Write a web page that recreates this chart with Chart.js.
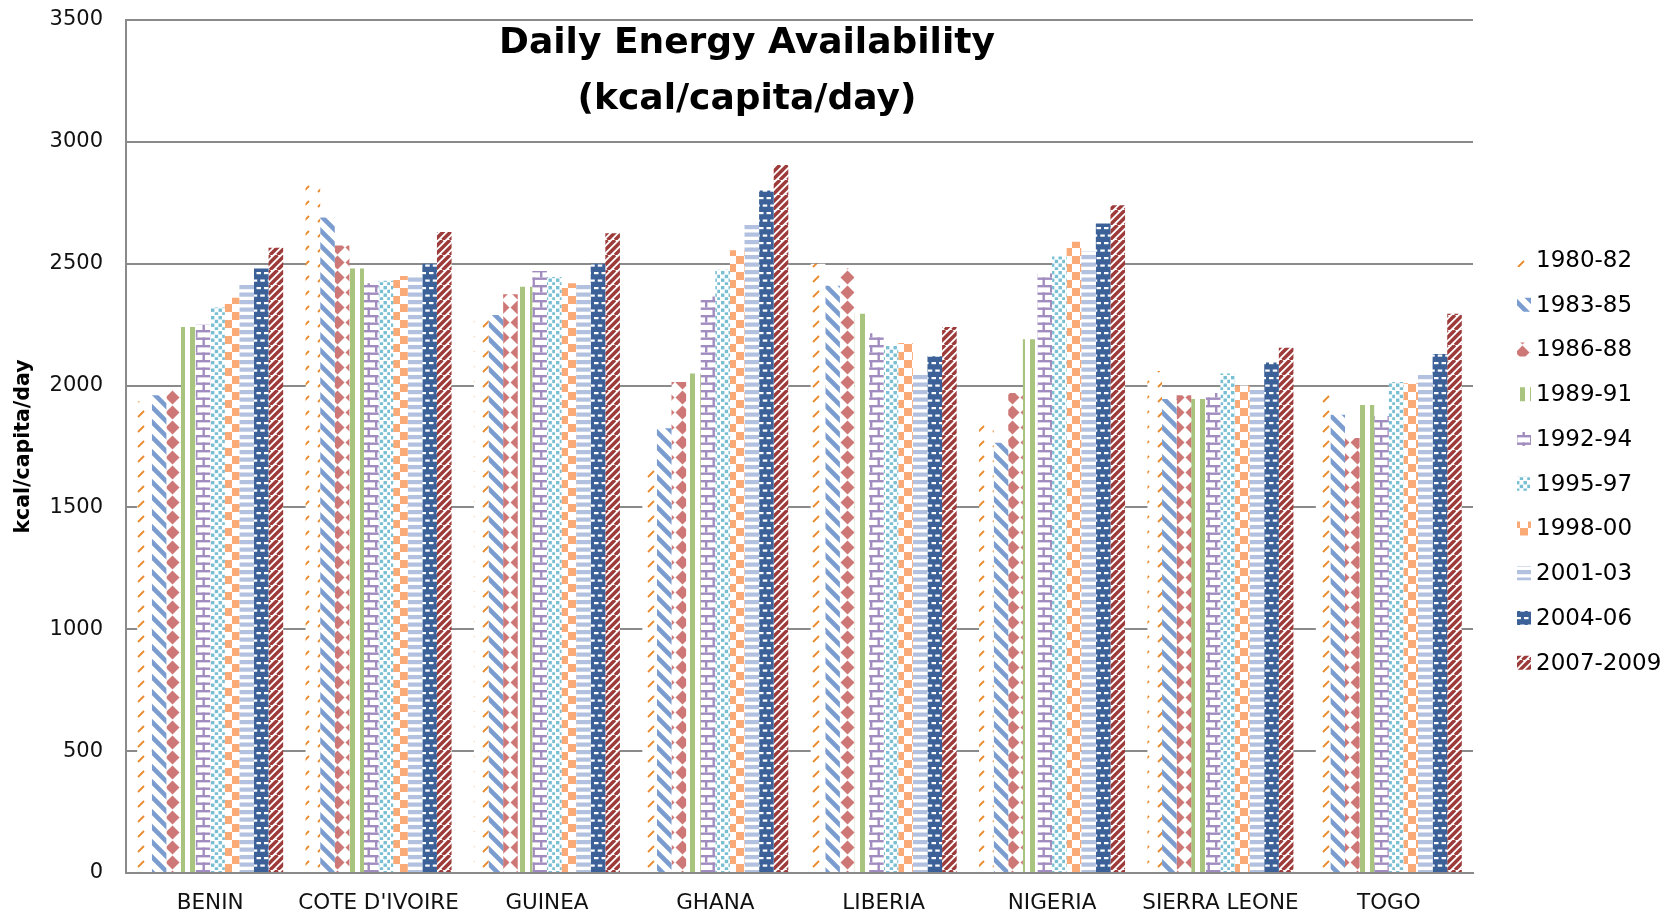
<!DOCTYPE html>
<html>
<head>
<meta charset="utf-8">
<title>Daily Energy Availability</title>
<script src="https://cdn.jsdelivr.net/npm/chart.js@4.4.1/dist/chart.umd.min.js"></script>
<style>
  html, body { margin: 0; padding: 0; background: #ffffff; }
  #wrap { width: 1675px; height: 914px; position: relative; }
</style>
</head>
<body>
<div id="wrap"><canvas id="chart" width="1675" height="914"></canvas></div>
<script>
// Countries on the category axis
const countries = ['BENIN', "COTE D'IVOIRE", 'GUINEA', 'GHANA', 'LIBERIA', 'NIGERIA', 'SIERRA LEONE', 'TOGO'];

// Three-year periods (one series each)
const periods = ['1980-82', '1983-85', '1986-88', '1989-91', '1992-94', '1995-97', '1998-00', '2001-03', '2004-06', '2007-2009'];

// kcal/capita/day, one value per country, in the order of `countries`
const v1980_82 = [1935, 2845, 2295, 1660, 2500, 1850, 2060, 1965];
const v1983_85 = [1960, 2690, 2290, 1825, 2410, 1765, 1945, 1880];
const v1986_88 = [1985, 2575, 2375, 2015, 2480, 1970, 1960, 1785];
const v1989_91 = [2240, 2480, 2405, 2050, 2295, 2190, 1945, 1920];
const v1992_94 = [2250, 2420, 2470, 2365, 2215, 2460, 1970, 1875];
const v1995_97 = [2320, 2430, 2445, 2475, 2165, 2530, 2050, 2015];
const v1998_00 = [2360, 2450, 2420, 2555, 2175, 2590, 2000, 2010];
const v2001_03 = [2415, 2455, 2420, 2660, 2055, 2550, 1995, 2045];
const v2004_06 = [2480, 2500, 2500, 2800, 2120, 2665, 2095, 2130];
const v2007_09 = [2565, 2630, 2625, 2905, 2240, 2740, 2155, 2295];

// Value axis ticks
const yTickValues = [0, 500, 1000, 1500, 2000, 2500, 3000, 3500];

const seriesValues = [v1980_82, v1983_85, v1986_88, v1989_91, v1992_94,
                      v1995_97, v1998_00, v2001_03, v2004_06, v2007_09];

// ---- pattern fills (white ground, coloured motif) ----
function tile(w, h, paint) {
  const c = document.createElement('canvas');
  c.width = w; c.height = h;
  const g = c.getContext('2d');
  g.fillStyle = '#ffffff';
  g.fillRect(0, 0, w, h);
  paint(g, w, h);
  return c;
}
const ctx0 = document.getElementById('chart').getContext('2d');
function pattern(c) { return ctx0.createPattern(c, 'repeat'); }

const fills = [
  // dashed upward diagonal, orange
  pattern(tile(15, 15, g => {
    g.strokeStyle = '#E98A2D'; g.lineWidth = 1.8;
    g.beginPath(); g.moveTo(3, 12); g.lineTo(9, 6); g.stroke();
  })),
  // wide downward diagonal, blue
  pattern(tile(15, 15, g => {
    g.strokeStyle = '#7B9CCF'; g.lineWidth = 4.6;
    g.beginPath();
    for (const k of [-15, 0, 15]) { g.moveTo(k - 2, -2); g.lineTo(k + 17, 17); }
    g.stroke();
  })),
  // solid diamond, rose
  pattern(tile(15, 15, g => {
    g.fillStyle = '#CD7876';
    g.beginPath();
    g.moveTo(7.5, 0.5); g.lineTo(14.5, 7.5); g.lineTo(7.5, 14.5); g.lineTo(0.5, 7.5);
    g.closePath(); g.fill();
  })),
  // vertical stripes, green
  pattern(tile(10, 10, g => {
    g.fillStyle = '#A9C47F'; g.fillRect(0, 0, 5, 10);
  })),
  // horizontal brick, purple
  pattern(tile(15, 15, g => {
    g.fillStyle = '#A18CBF';
    g.fillRect(0, 0, 15, 2.4);
    g.fillRect(0, 7.5, 15, 2.4);
    g.fillRect(0, 0, 2.4, 7.5);
    g.fillRect(7.5, 7.5, 2.4, 7.5);
  })),
  // small confetti squares, aqua
  pattern(tile(15, 15, g => {
    g.fillStyle = '#79BFD3';
    for (const i of [0, 7.5]) for (const j of [0, 7.5]) {
      g.fillRect(i + 1, j + 1, 3.4, 3.4);
      g.fillRect(i + 4.75, j + 4.75, 3.4, 3.4);
    }
  })),
  // large checker board, light orange
  pattern(tile(16, 16, g => {
    g.fillStyle = '#F9AA77';
    g.fillRect(0, 0, 8, 8);
    g.fillRect(8, 8, 8, 8);
  })),
  // horizontal stripes, light blue
  pattern(tile(15, 15, g => {
    g.fillStyle = '#B1C1DF';
    g.fillRect(0, 0, 15, 4.2);
    g.fillRect(0, 7.5, 15, 4.2);
  })),
  // dark blue with white dashes
  pattern(tile(15, 15, g => {
    g.fillStyle = '#3B6198'; g.fillRect(0, 0, 15, 15);
    g.fillStyle = '#ffffff';
    for (const x of [1.5, 9]) g.fillRect(x, 2, 4.5, 2.2);
    for (const x of [-2.25, 5.25, 12.75]) g.fillRect(x, 9.5, 4.5, 2.2);
  })),
  // wide upward diagonal, dark red
  pattern(tile(15, 15, g => {
    g.strokeStyle = '#9D3B3B'; g.lineWidth = 3.4;
    g.beginPath();
    for (const k of [-15, -7.5, 0, 7.5, 15]) { g.moveTo(k, 15); g.lineTo(k + 15, 0); }
    g.stroke();
  }))
];

const FONT = '"DejaVu Sans", sans-serif';

// Chart heading and series key, painted on top of the plot
const decorations = {
  id: 'decorations',
  afterDraw(chart) {
    const c = chart.ctx;
    c.save();
    c.fillStyle = '#000000';
    c.textAlign = 'center';
    c.textBaseline = 'middle';
    c.font = 'bold 36px ' + FONT;
    c.fillText('Daily Energy Availability', 747, 44);
    c.fillText('(kcal/capita/day)', 747, 100);

    c.textAlign = 'left';
    c.font = '23px ' + FONT;
    const x0 = 1517, y0 = 260, step = 44.75;
    chart.data.datasets.forEach((ds, i) => {
      const cy = y0 + i * step;
      c.fillStyle = ds.backgroundColor;
      c.fillRect(x0, cy - 7, 14, 14);
      c.fillStyle = '#000000';
      c.fillText(ds.label, x0 + 19, cy + 1);
    });
    c.restore();
  }
};

const datasets = periods.map((p, i) => ({
  label: p,
  data: seriesValues[i],
  backgroundColor: fills[i],
  borderWidth: 0,
  barPercentage: 1.0,
  categoryPercentage: 0.867
}));

new Chart(ctx0, {
  type: 'bar',
  data: { labels: countries, datasets },
  plugins: [decorations],
  options: {
    responsive: false,
    animation: false,
    layout: { padding: { top: 20, right: 202, bottom: 0, left: 0 } },
    plugins: {
      legend: { display: false },
      title: { display: false },
      tooltip: { enabled: false }
    },
    scales: {
      x: {
        grid: { display: false, drawTicks: false },
        border: { display: true, color: '#8A8A8A', width: 2 },
        ticks: { color: '#111111', font: { family: FONT, size: 21.5 }, padding: 18, maxRotation: 0, autoSkip: false },
        afterFit(scale) { scale.height = 41; }
      },
      y: {
        min: 0,
        max: 3500,
        afterBuildTicks(scale) { scale.ticks = yTickValues.map(v => ({ value: v })); },
        grid: { color: '#8A8A8A', lineWidth: 2, drawTicks: false },
        border: { display: true, color: '#8A8A8A', width: 2 },
        ticks: { color: '#111111', font: { family: FONT, size: 21 }, padding: 23, callback: v => String(v) },
        title: {
          display: true,
          text: 'kcal/capita/day',
          color: '#000000',
          font: { family: FONT, size: 20.5, weight: 'bold' },
          padding: { top: 11, bottom: 0 }
        },
        afterFit(scale) {
          scale.width = 126;
          scale.paddingTop = 12;
          scale.paddingBottom = 12;
        }
      }
    }
  }
});
</script>
</body>
</html>
